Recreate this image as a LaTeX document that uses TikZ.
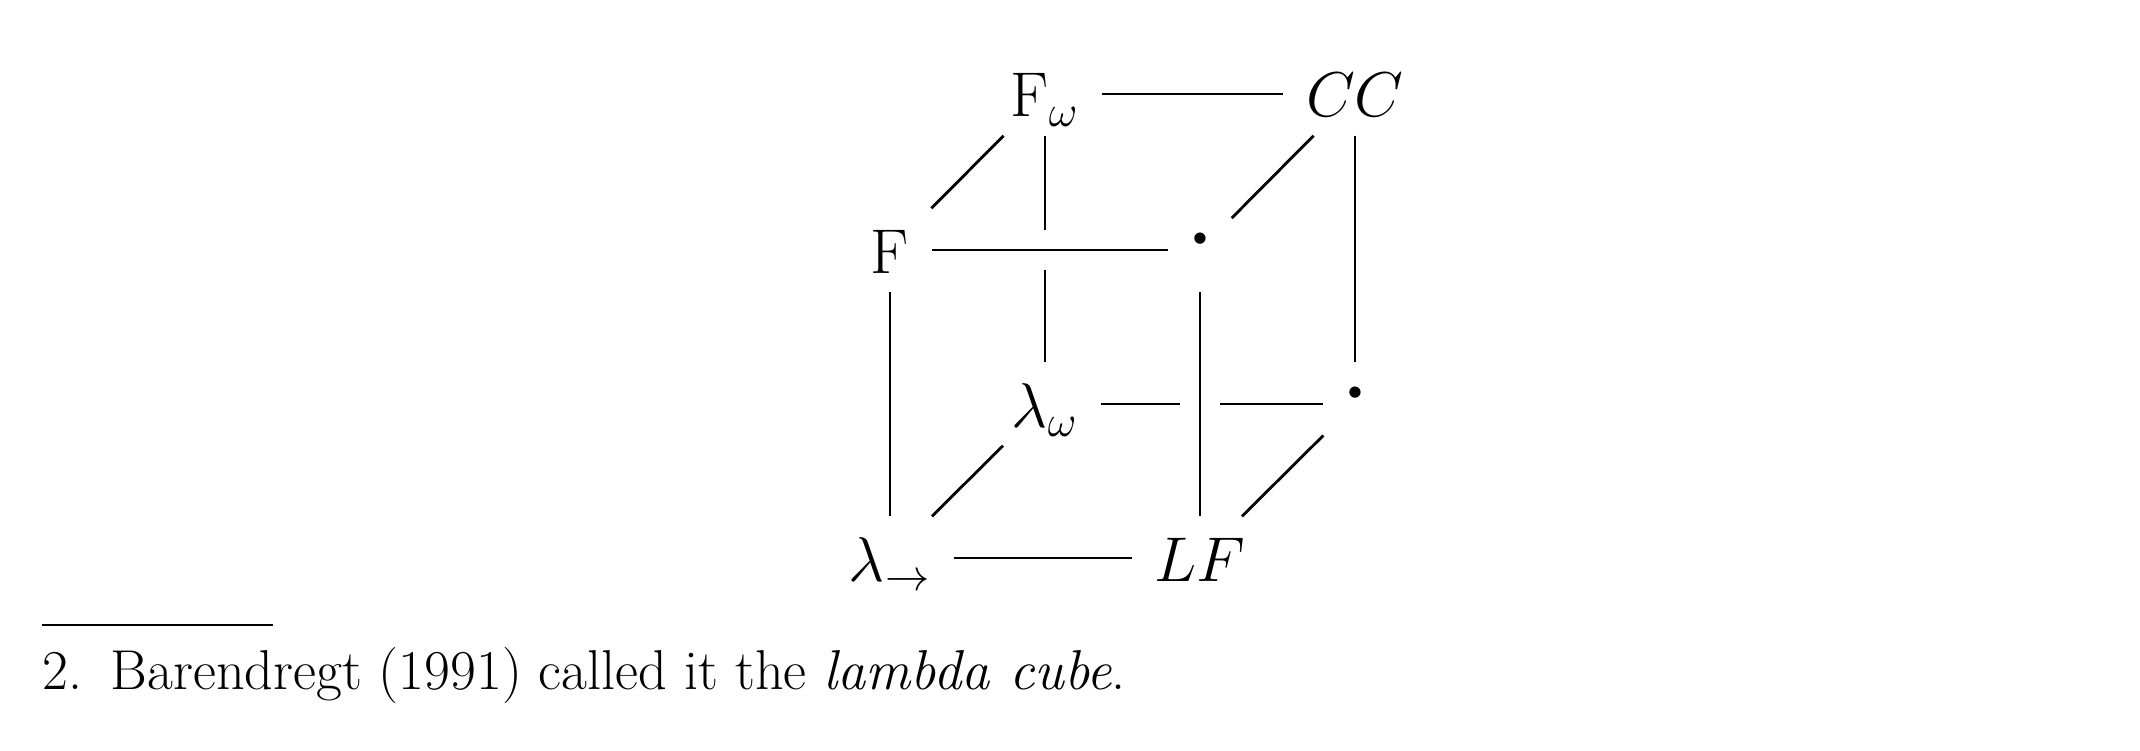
\documentclass[tikz,border=0pt]{standalone}
\usepackage{fix-cm}
\usepackage{amsmath,amssymb}
\usepackage{tikz}

\begin{document}
\begin{tikzpicture}[
    vertex/.style={font=\fontsize{18}{22}\selectfont, anchor=base, inner xsep=0.22cm, inner ysep=0.18cm, text height=0.46cm, text depth=0cm},
    edge/.style={line width=0.8pt},
    over/.style={preaction={draw=white, line width=0.4cm}},
    note/.style={font=\fontsize{16}{19}\selectfont, anchor=base west, inner sep=0pt}
]
\useasboundingbox (0,0) rectangle (21.4,7.5);

% Nodes (back face)
\node[vertex] (Fw) at (10.45,6.33) {$\mathrm{F}_\omega$};
\node[vertex] (CC) at (13.55,6.33) {$CC$};
\node[vertex] (lw) at (10.45,3.23) {$\lambda_\omega$};
\node[vertex] (bbr) at (13.55,3.23) {\makebox[0.18cm]{\raisebox{0.08cm}{\scalebox{1.7}{$\cdot$}}}};

% Nodes (front face)
\node[vertex] (F) at (8.90,4.77) {$\mathrm{F}$};
\node[vertex] (ftr) at (12.00,4.77) {\makebox[0.18cm]{\raisebox{0.08cm}{\scalebox{1.7}{$\cdot$}}}};
\node[vertex] (lto) at (8.90,1.69) {$\lambda_{\to}$};
\node[vertex] (LF) at (12.00,1.69) {$LF$};

% Hidden edges
\draw[edge] (Fw) -- (lw);
\draw[edge] (lw) -- (bbr);
\draw[edge] (lw) -- (lto);

% Visible edges
\draw[edge] (Fw) -- (CC);
\draw[edge] (CC) -- (bbr);
\draw[edge] (Fw) -- (F);
\draw[edge] (CC) -- (ftr);
\draw[edge] (bbr) -- (LF);
\draw[edge] (F) -- (lto);
\draw[edge] (lto) -- (LF);
\draw[edge, over] (F) -- (ftr);
\draw[edge, over] (ftr) -- (LF);

% Footnote
\node[note] (fn) at (0.42,0.61) {2.\enspace Barendregt (1991) called it the \emph{lambda cube}.};
\draw[line width=0.5pt] (0.42,1.25) -- (2.73,1.25);

\end{tikzpicture}
\end{document}
